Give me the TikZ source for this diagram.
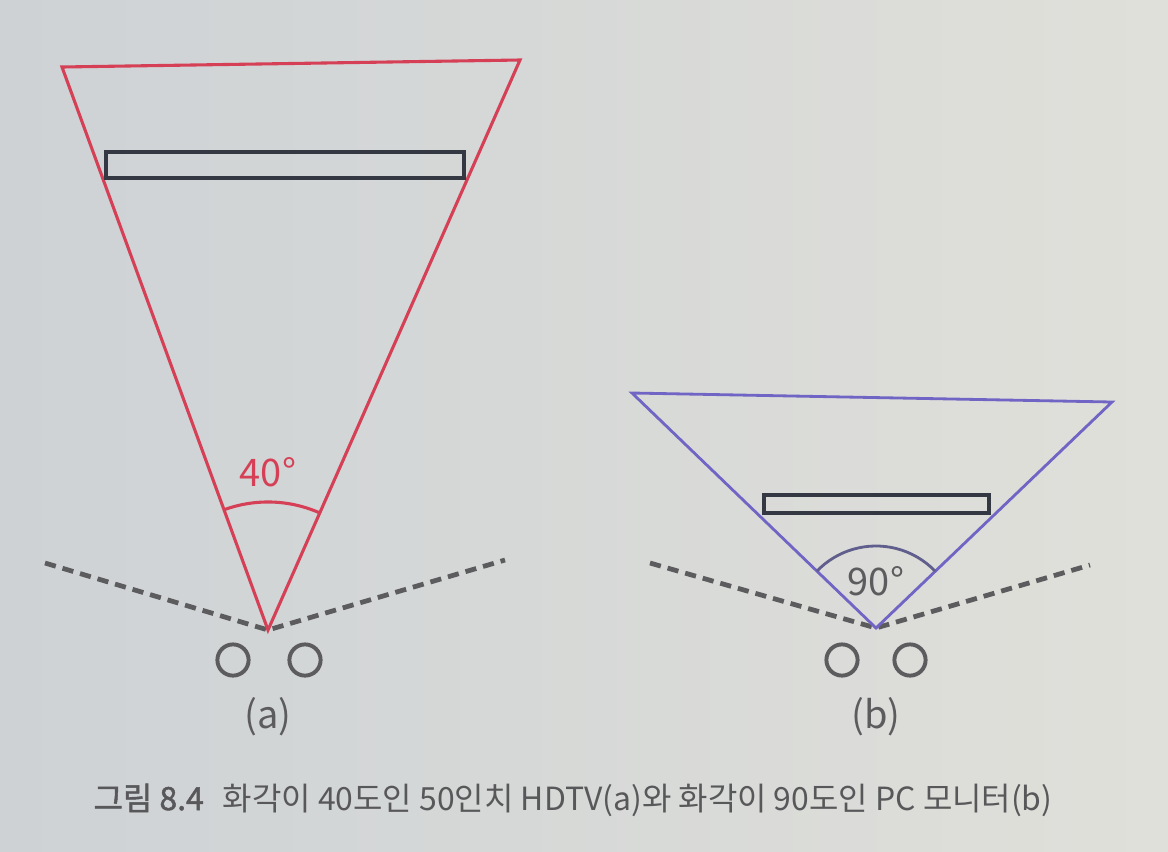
\documentclass[tikz,border=0pt]{standalone}
\usepackage{fontspec}
\setmainfont{Noto Sans CJK KR}
\newfontfamily\krbold[FakeBold=1.4]{Noto Sans CJK KR}
\usetikzlibrary{calc}
\definecolor{bgleft}{RGB}{206,210,213}
\definecolor{bgright}{RGB}{224,224,218}
\definecolor{fovred}{RGB}{214,64,86}
\definecolor{fovblue}{RGB}{112,100,196}
\definecolor{arcblue}{RGB}{96,94,140}
\definecolor{tvdark}{RGB}{52,56,66}
\definecolor{eyegray}{RGB}{92,92,94}
\definecolor{captiongray}{RGB}{88,88,90}

\tikzset{
  fovA/.style={draw=fovred, line width=2.2pt, line join=miter},
  fovB/.style={draw=fovblue, line width=2pt, line join=miter},
  tvbox/.style={draw=tvdark, line width=3.2pt},
  sightline/.style={draw=eyegray, line width=3.4pt, dash pattern=on 8pt off 5pt},
  eye/.style={draw=eyegray, line width=2.8pt, circle, minimum size=0.78cm, inner sep=0pt},
  anglelabel/.style={font=\fontsize{27}{30}\selectfont, inner sep=0pt},
  sublabel/.style={font=\fontsize{27}{30}\selectfont, text=eyegray, inner sep=0pt}
}

\begin{document}
\begin{tikzpicture}[x=0.025cm, y=-0.025cm]
  % background
  \shade[left color=bgleft, right color=bgright] (0,0) rectangle (1168,851);
  \useasboundingbox (0,0) rectangle (1168,851);

  % (a) 50-inch HDTV, 40 degrees
  \coordinate (apexA) at (268,630);
  \coordinate (topLA) at (62,67);
  \coordinate (topRA) at (520,60);
  \draw[sightline] (45,563) coordinate (sightLA) -- (apexA) -- (505,560) coordinate (sightRA);
  \draw[fovA] (apexA) -- (topLA) -- (topRA) -- cycle;
  \draw[tvbox] (106,152) rectangle (464,178);
  \draw[fovred, line width=2.2pt] (apexA) ++(110.1:3.2cm) arc[start angle=110.1, end angle=66.1, radius=3.2cm];
  \node[anglelabel, text=fovred] (degA) at (268,472) {40°};
  \node[eye] (eyeLA) at (233,660) {};
  \node[eye] (eyeRA) at (305,660) {};
  \node[sublabel] (labA) at (268,717) {(a)};

  % (b) PC monitor, 90 degrees
  \coordinate (apexB) at (876,628);
  \coordinate (topLB) at (632,393);
  \coordinate (topRB) at (1112,402);
  \draw[sightline] (650,563) coordinate (sightLB) -- (apexB) -- (1090,565) coordinate (sightRB);
  \draw[fovB] (apexB) -- (topLB) -- (topRB) -- cycle;
  \draw[tvbox] (764,495) rectangle (989,513);
  \draw[arcblue, line width=2pt] (apexB) ++(136.1:2.05cm) arc[start angle=136.1, end angle=43.8, radius=2.05cm];
  \node[anglelabel, text=eyegray] (degB) at (876,581) {90°};
  \node[eye] (eyeLB) at (842,660) {};
  \node[eye] (eyeRB) at (910,660) {};
  \node[sublabel] (labB) at (876,717) {(b)};

  % caption
  \node[font=\fontsize{22.7}{26}\selectfont, text=captiongray, inner sep=0pt] (caption) at (573,800)
    {{\krbold 그림 8.4}\hspace{0.6em}화각이 40도인 50인치 HDTV(a)와 화각이 90도인 PC 모니터(b)};
\end{tikzpicture}
\end{document}
